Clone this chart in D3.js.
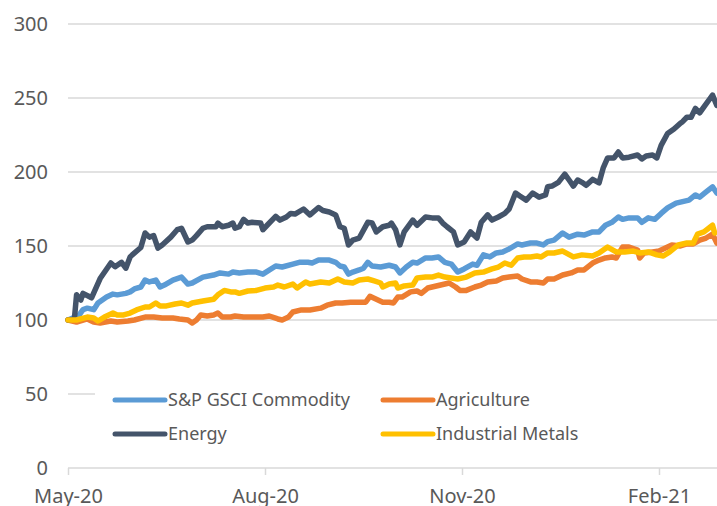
<!DOCTYPE html>
<html>
<head>
<meta charset="utf-8">
<script src="https://cdn.jsdelivr.net/npm/d3@7"></script>
<style>
  html, body { margin: 0; padding: 0; background: #fff; overflow: hidden; }
  svg text { font-family: "Noto Sans", "DejaVu Sans", sans-serif; fill: #595959; }
</style>
</head>
<body>
<div id="chart"></div>
<script>
// day offsets from 1 May 2020, index value (1 May 2020 = 100)
const startDate = Date.UTC(2020, 4, 1);

const spGsci = [[0,100],[5,103],[7,107],[9,108],[12,107],[14,111.5],[18,115.5],[21,117.5],[23,117],[27,118],[29,119],[31,121],[34,122.3],[36,127],[38,125.7],[41,127],[43,122.3],[45,123.6],[49,127],[53,129],[56,124.3],[58,125],[63,129],[68,130.4],[71,131.8],[75,131],[77,132.4],[80,131.8],[84,132.4],[88,132.4],[91,131],[97,136.5],[100,135.8],[105,137.8],[108,139],[112,139],[114,138.5],[117,140.5],[122,140.5],[125,139],[127,136.5],[129,135.8],[131,131],[133,132.4],[136,133.8],[138,135],[140,139],[142,136.5],[146,135.8],[150,137],[153,135.8],[155,131.8],[158,135.8],[161,139],[163,138.5],[167,141.9],[170,141.9],[173,142.6],[176,139],[179,137.8],[182,132.4],[185,134.5],[189,137.8],[191,137],[194,144],[197,142.6],[200,145.3],[203,146],[206,148],[210,151.4],[212,150.7],[216,152],[219,152],[222,150.7],[224,153],[227,154],[231,158.8],[234,156],[238,158],[241,157.4],[245,159.5],[248,159.5],[251,164],[254,166],[257,169.6],[259,168],[262,169],[266,169],[268,166],[271,169],[274,168],[277,172],[280,175.7],[284,179],[287,180],[290,181],[293,184.5],[295,183],[298,186.5],[301,190],[303,185.8]];

const agriculture = [[0,100],[4,98.6],[9,100.7],[12,98.6],[15,98],[20,99.3],[23,98.6],[28,99.3],[31,100],[36,102],[40,102],[44,101.4],[49,101.4],[52,100.7],[56,100],[58,98],[60,100],[62,103.4],[65,102.7],[68,103.4],[70,104.7],[72,102],[76,102],[78,102.7],[82,102],[86,102],[91,102],[94,102.7],[98,100.7],[100,100],[103,102],[105,105.4],[109,106.8],[113,106.8],[118,108],[121,110],[125,111.5],[128,111.5],[132,112],[136,112],[139,112],[141,116],[144,114],[147,112],[150,112],[152,111.5],[154,115.5],[156,115.5],[160,119],[163,119.6],[165,118],[168,121.6],[172,123],[176,124.3],[178,125],[181,122.3],[183,120],[186,120],[190,122.3],[193,123.6],[196,125.7],[200,126.4],[203,128.4],[206,129],[210,129.7],[212,127.7],[216,125.7],[219,125.7],[222,125],[224,127.7],[227,127.7],[231,130.4],[235,131.8],[238,133.8],[241,133.8],[245,138.5],[248,140.5],[251,141.9],[254,142.6],[256,141.9],[259,149.3],[262,149.3],[266,147.3],[267,141.9],[269,145.3],[273,146],[276,146.6],[279,148.6],[282,150.7],[286,150],[289,151.4],[292,151.4],[295,154],[298,155.4],[301,158],[303,152]];

const energy = [[0,100],[3,101],[4,117],[6,113.5],[7,118],[11,115],[15,128],[20,138.5],[22,136],[25,139],[27,135],[29,142.6],[30,144],[34,149],[36,158.8],[38,156],[40,157],[42,148.6],[44,150.7],[48,156],[51,161],[53,162],[56,152.7],[58,154],[60,157],[63,162],[65,163],[69,163],[70,165.5],[72,163],[75,164],[77,165.5],[78,162],[80,163],[82,168],[84,165.5],[86,166],[90,165.5],[91,161],[93,164],[97,170],[99,167.5],[102,169.6],[104,172],[106,171.6],[110,175],[113,171],[117,176],[119,174],[122,173],[125,171],[127,163],[129,162],[131,150.7],[133,154],[136,155.4],[140,166],[142,165.5],[144,159.5],[147,163],[150,164],[151,165.5],[153,161],[155,150.7],[157,159.5],[161,167.5],[163,164],[167,169.6],[170,169],[173,169],[175,165.5],[177,163],[180,159.5],[182,150.7],[185,152.7],[188,159.5],[191,155.4],[193,166],[196,171],[198,167.5],[201,169.6],[204,172],[206,175],[209,185.8],[211,183.8],[214,181],[217,185.8],[220,183],[223,184.5],[224,190],[226,190.5],[229,193],[232,198.6],[234,194.6],[236,190.5],[238,194.6],[240,193],[242,191],[245,195],[248,192.6],[250,203],[252,209.5],[255,209.5],[257,213.5],[259,209.5],[262,210],[266,211.5],[268,208.8],[270,210.8],[273,211.5],[275,209.5],[277,218],[280,226],[283,229],[286,233],[287,234],[289,237],[291,237],[293,243],[295,240],[297,244],[300,250],[301,252],[303,245]];

const industrialMetals = [[0,100],[4,100],[9,102],[12,101.4],[14,99.3],[17,102],[21,104.7],[23,103.4],[26,103.4],[29,104.7],[32,106.8],[36,108.8],[38,108.8],[41,111.5],[43,109.5],[46,109.5],[50,110.8],[53,111.5],[56,110],[58,111.5],[63,112.8],[68,114],[70,117],[73,120],[76,119],[78,119],[80,118],[84,119.6],[88,120],[92,121.6],[96,122.3],[98,123.6],[101,122.3],[105,124.3],[107,121.6],[111,125.7],[113,124.3],[118,125.7],[122,125],[126,127.7],[129,125.7],[133,125],[136,127],[140,127.7],[143,126.4],[146,125],[147,122.3],[150,124.3],[153,125],[154,121.6],[157,123],[161,123.6],[163,128.4],[167,129],[170,129],[173,130.4],[176,129],[179,128.4],[182,127.7],[186,129],[190,131.8],[194,132.4],[198,134.5],[201,135.8],[204,138.5],[207,137],[210,141.9],[213,142.6],[216,142.6],[219,143.2],[221,142.6],[224,145.3],[227,145.3],[231,146.6],[236,142.6],[240,144],[245,143.2],[248,145.3],[252,149.3],[256,146],[260,146],[264,146.6],[267,145.3],[271,146],[275,144],[278,143.2],[281,146],[285,150.7],[289,152],[292,152],[294,158],[297,159.5],[301,164],[302,158.8]];

const seriesNames = ["S&P GSCI Commodity", "Agriculture", "Energy", "Industrial Metals"];
const seriesData = [spGsci, agriculture, energy, industrialMetals];
const seriesColors = ["#5B9BD5", "#ED7D31", "#44546A", "#FFC000"];

const yTicks = [0, 50, 100, 150, 200, 250, 300];
const xTickDates = [Date.UTC(2020, 4, 1), Date.UTC(2020, 7, 1), Date.UTC(2020, 10, 1), Date.UTC(2021, 1, 1)];
const xTickLabels = ["May-20", "Aug-20", "Nov-20", "Feb-21"];

const width = 717, height = 506;

const svg = d3.select("#chart").append("svg")
  .attr("width", width)
  .attr("height", height);

const x = d3.scaleUtc()
  .domain([new Date(xTickDates[0]), new Date(xTickDates[3])])
  .range([68, 659]);

const y = d3.scaleLinear()
  .domain([0, 300])
  .range([468, 24]);

const dayToDate = d => d3.utcDay.offset(new Date(startDate), d);

// gridlines
svg.append("g")
  .selectAll("line")
  .data(yTicks.filter(t => t > 0))
  .join("line")
    .attr("x1", 68).attr("x2", width)
    .attr("y1", d => y(d)).attr("y2", d => y(d))
    .attr("stroke", "#d9d9d9")
    .attr("stroke-width", 1.5);

// y labels
const yAxis = svg.append("g")
  .attr("transform", "translate(68,0)")
  .call(d3.axisLeft(y).tickValues(yTicks).tickSize(0).tickPadding(20));
yAxis.select(".domain").remove();
yAxis.selectAll("text").attr("font-size", 20).style("fill", "#595959");

// x axis
const xAxis = svg.append("g")
  .attr("transform", "translate(0,468)")
  .call(d3.axisBottom(x)
    .tickValues(xTickDates.map(d => new Date(d)))
    .tickFormat((d, i) => xTickLabels[i])
    .tickSize(7).tickPadding(14));
xAxis.select(".domain").attr("d", `M68,0H${width}`).attr("stroke", "#d9d9d9").attr("stroke-width", 1.5);
xAxis.selectAll(".tick line").attr("stroke", "#d9d9d9").attr("stroke-width", 1.5);
xAxis.selectAll("text").attr("font-size", 20).style("fill", "#595959");

// lines
const line = d3.line()
  .x(d => x(dayToDate(d[0])))
  .y(d => y(d[1]));

svg.append("g")
  .selectAll("path")
  .data(seriesData)
  .join("path")
    .attr("d", line)
    .attr("fill", "none")
    .attr("stroke", (d, i) => seriesColors[i])
    .attr("stroke-width", 5.5)
    .attr("stroke-linejoin", "round")
    .attr("stroke-linecap", "round");

// legend with white background
const legend = svg.append("g");
legend.append("rect")
  .attr("x", 95).attr("y", 382)
  .attr("width", width - 95).attr("height", 70)
  .attr("fill", "#fff");

const legendPos = [[115, 400], [383, 400], [115, 434], [383, 434]];
const items = legend.selectAll("g.item")
  .data(seriesNames)
  .join("g")
    .attr("class", "item")
    .attr("transform", (d, i) => `translate(${legendPos[i][0]},${legendPos[i][1]})`);

items.append("line")
  .attr("x1", 0).attr("x2", 50)
  .attr("stroke", (d, i) => seriesColors[i])
  .attr("stroke-width", 5)
  .attr("stroke-linecap", "round");

items.append("text")
  .attr("x", 53)
  .attr("dy", "0.35em")
  .attr("font-size", 18)
  .text(d => d);
</script>
</body>
</html>
